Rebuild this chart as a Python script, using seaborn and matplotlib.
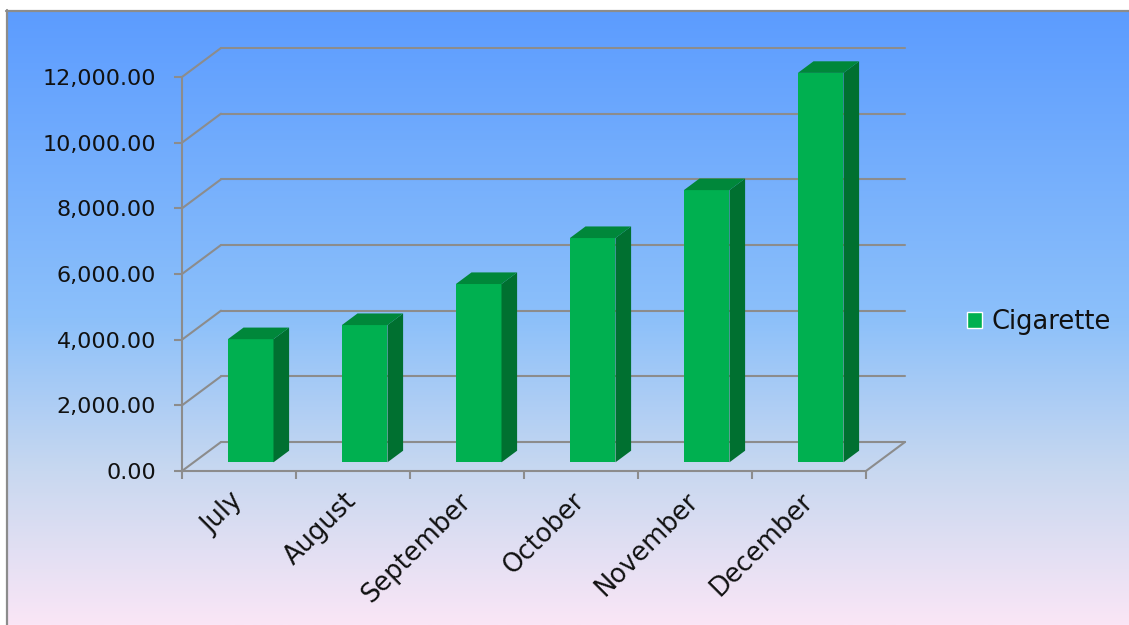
import numpy as np
import pandas as pd
import matplotlib
matplotlib.use("Agg")
import matplotlib.pyplot as plt
import matplotlib.transforms as mtransforms
from matplotlib.colors import LinearSegmentedColormap
from matplotlib.patches import Polygon, Patch
from matplotlib.lines import Line2D
import seaborn as sns

# ---------------- data ----------------
months = ["July", "August", "September", "October", "November", "December"]
cigarette = [3750, 4180, 5430, 6830, 8290, 11860]
series_name = "Cigarette"
yticks = [0, 2000, 4000, 6000, 8000, 10000, 12000]

# ---------------- style ----------------
sns.set_style("white")
plt.rcParams["font.family"] = ["DejaVu Sans"]
FS_NUM = 16
FS_TXT = 18.5
GRID = "#8C8C8C"
FRONT = "#00B050"
SIDE = "#007030"
TOP = "#00873A"
TXT = "#111111"

W, H = 1129, 625
fig = plt.figure(figsize=(W / 100, H / 100), dpi=100)
fig.patch.set_facecolor("white")

# gradient background
bg = fig.add_axes([8 / W, 0, 1 - 8 / W, (H - 11) / H])
cmap = LinearSegmentedColormap.from_list(
    "bg", [(0.0, "#5C9CFF"), (0.5, "#8CC0FA"), (0.75, "#C8D8F0"), (1.0, "#FAE6F6")])
bg.imshow(np.linspace(0, 1, 256).reshape(-1, 1), aspect="auto", cmap=cmap,
          extent=[0, 1, 0, 1], origin="upper")
bg.axis("off")
fig.add_artist(Line2D([7 / W, 7 / W], [0, (H - 10) / H], color=GRID, lw=1.6,
                      transform=fig.transFigure))
fig.add_artist(Line2D([6 / W, 1], [(H - 10.5) / H] * 2, color=GRID, lw=1.6,
                      transform=fig.transFigure))

# main (front plane) axes
ax = fig.add_axes([182 / W, (H - 471) / H, 684 / W, 394 / H])
ax.patch.set_alpha(0)
df = pd.DataFrame({"Month": months, "Value": cigarette})
sns.barplot(data=df, x="Month", y="Value", color=FRONT, width=0.4, saturation=1,
            ax=ax, edgecolor="none", zorder=3)
ax.set_xlim(-0.5, 5.5)
ax.set_ylim(0, 12000)

# depth vector (data units) for 3D look
Dx = 39 / 114.0
Dy = 29 * 12000 / 394.0
f0, fd = 0.3, 0.4
ox, oy = f0 * Dx, f0 * Dy
bx, by = fd * Dx, fd * Dy

# back wall gridlines + left wall diagonals + floor
for v in yticks:
    ax.plot([-0.5 + Dx, 5.5 + Dx], [v + Dy] * 2, color=GRID, lw=1.5, clip_on=False, zorder=1)
    ax.plot([-0.5, -0.5 + Dx], [v, v + Dy], color=GRID, lw=1.5, clip_on=False, zorder=1)
ax.plot([5.5, 5.5 + Dx], [0, Dy], color=GRID, lw=1.5, clip_on=False, zorder=1)

# 3D bars
shift = mtransforms.Affine2D().translate(ox, oy) + ax.transData
for p in list(ax.patches):
    x0, w, h = p.get_x(), p.get_width(), p.get_height()
    p.set_transform(shift)
    p.set_clip_on(False)
    side = Polygon([(x0 + w, 0), (x0 + w, h), (x0 + w + bx, h + by), (x0 + w + bx, by)],
                   closed=True, facecolor=SIDE, edgecolor="none", transform=shift,
                   clip_on=False, zorder=3)
    top = Polygon([(x0, h), (x0 + w, h), (x0 + w + bx, h + by), (x0 + bx, h + by)],
                  closed=True, facecolor=TOP, edgecolor="none", transform=shift,
                  clip_on=False, zorder=3)
    ax.add_patch(side)
    ax.add_patch(top)

# axes styling
for s in ["top", "right"]:
    ax.spines[s].set_visible(False)
for s in ["left", "bottom"]:
    ax.spines[s].set_color(GRID)
    ax.spines[s].set_linewidth(1.5)
    ax.spines[s].set_zorder(2)

ax.set_yticks(yticks)
ax.set_yticklabels([f"{v:,.2f}" for v in yticks])
ax.tick_params(axis="y", direction="out", length=5.8, width=1.5, color=GRID,
               pad=13, labelsize=FS_NUM, labelcolor=TXT, left=True)
ax.set_xticks(range(len(months)))
ax.set_xticklabels(months, rotation=45, ha="right", va="center",
                   rotation_mode="anchor")
ax.tick_params(axis="x", which="major", length=0, pad=19, labelsize=FS_TXT, labelcolor=TXT)
ax.set_xticks(np.arange(-0.5, len(months), 1.0), minor=True)
ax.tick_params(axis="x", which="minor", direction="out", length=5.5, width=1.5,
               color=GRID, bottom=True)
ax.set_xlabel("")
ax.set_ylabel("")

ax.legend(handles=[Patch(facecolor=FRONT, label=series_name)],
          loc="center left", bbox_to_anchor=(967 / W, (H - 322) / H),
          bbox_transform=fig.transFigure, frameon=False, fontsize=FS_TXT,
          borderpad=0, borderaxespad=0,
          handlelength=0.6, handleheight=0.6, handletextpad=0.35, labelcolor=TXT)

fig.savefig("out.png", dpi=100)
